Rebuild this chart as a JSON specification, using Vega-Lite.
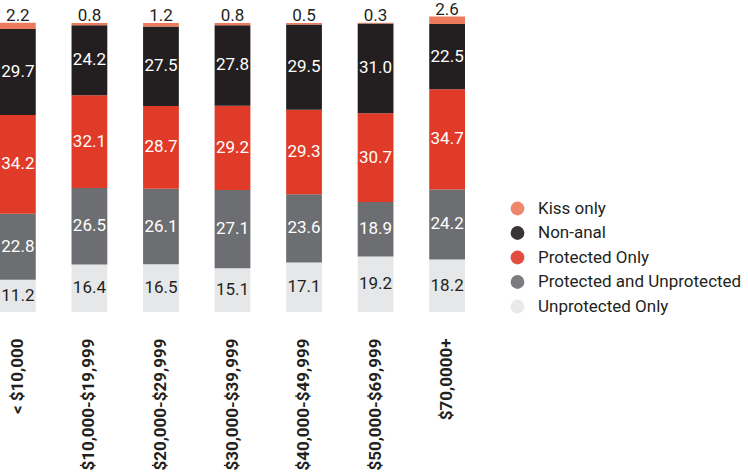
{
  "$schema": "https://vega.github.io/schema/vega-lite/v6.json",
  "width": 465,
  "height": 311,
  "padding": 0,
  "autosize": {"type": "pad"},
  "background": "white",
  "config": {"view": {"stroke": null}, "font": "Roboto"},
  "data": {"values": [
    {"inc": "< $10,000", "seg": "Unprotected Only", "rank": 1, "v": 11.2},
    {"inc": "< $10,000", "seg": "Protected and Unprotected", "rank": 2, "v": 22.8},
    {"inc": "< $10,000", "seg": "Protected Only", "rank": 3, "v": 34.2},
    {"inc": "< $10,000", "seg": "Non-anal", "rank": 4, "v": 29.7},
    {"inc": "< $10,000", "seg": "Kiss only", "rank": 5, "v": 2.2},
    {"inc": "$10,000-$19,999", "seg": "Unprotected Only", "rank": 1, "v": 16.4},
    {"inc": "$10,000-$19,999", "seg": "Protected and Unprotected", "rank": 2, "v": 26.5},
    {"inc": "$10,000-$19,999", "seg": "Protected Only", "rank": 3, "v": 32.1},
    {"inc": "$10,000-$19,999", "seg": "Non-anal", "rank": 4, "v": 24.2},
    {"inc": "$10,000-$19,999", "seg": "Kiss only", "rank": 5, "v": 0.8},
    {"inc": "$20,000-$29,999", "seg": "Unprotected Only", "rank": 1, "v": 16.5},
    {"inc": "$20,000-$29,999", "seg": "Protected and Unprotected", "rank": 2, "v": 26.1},
    {"inc": "$20,000-$29,999", "seg": "Protected Only", "rank": 3, "v": 28.7},
    {"inc": "$20,000-$29,999", "seg": "Non-anal", "rank": 4, "v": 27.5},
    {"inc": "$20,000-$29,999", "seg": "Kiss only", "rank": 5, "v": 1.2},
    {"inc": "$30,000-$39,999", "seg": "Unprotected Only", "rank": 1, "v": 15.1},
    {"inc": "$30,000-$39,999", "seg": "Protected and Unprotected", "rank": 2, "v": 27.1},
    {"inc": "$30,000-$39,999", "seg": "Protected Only", "rank": 3, "v": 29.2},
    {"inc": "$30,000-$39,999", "seg": "Non-anal", "rank": 4, "v": 27.8},
    {"inc": "$30,000-$39,999", "seg": "Kiss only", "rank": 5, "v": 0.8},
    {"inc": "$40,000-$49,999", "seg": "Unprotected Only", "rank": 1, "v": 17.1},
    {"inc": "$40,000-$49,999", "seg": "Protected and Unprotected", "rank": 2, "v": 23.6},
    {"inc": "$40,000-$49,999", "seg": "Protected Only", "rank": 3, "v": 29.3},
    {"inc": "$40,000-$49,999", "seg": "Non-anal", "rank": 4, "v": 29.5},
    {"inc": "$40,000-$49,999", "seg": "Kiss only", "rank": 5, "v": 0.5},
    {"inc": "$50,000-$69,999", "seg": "Unprotected Only", "rank": 1, "v": 19.2},
    {"inc": "$50,000-$69,999", "seg": "Protected and Unprotected", "rank": 2, "v": 18.9},
    {"inc": "$50,000-$69,999", "seg": "Protected Only", "rank": 3, "v": 30.7},
    {"inc": "$50,000-$69,999", "seg": "Non-anal", "rank": 4, "v": 31.0},
    {"inc": "$50,000-$69,999", "seg": "Kiss only", "rank": 5, "v": 0.3},
    {"inc": "$70,0000+", "seg": "Unprotected Only", "rank": 1, "v": 18.2},
    {"inc": "$70,0000+", "seg": "Protected and Unprotected", "rank": 2, "v": 24.2},
    {"inc": "$70,0000+", "seg": "Protected Only", "rank": 3, "v": 34.7},
    {"inc": "$70,0000+", "seg": "Non-anal", "rank": 4, "v": 22.5},
    {"inc": "$70,0000+", "seg": "Kiss only", "rank": 5, "v": 2.6}
  ]},
  "encoding": {
    "x": {
      "field": "inc", "type": "nominal", "sort": null,
      "scale": {"paddingInner": 0.5, "paddingOuter": 0},
      "axis": {"title": null, "ticks": false, "domain": false, "labelAngle": -90, "labelPadding": 26, "labelFontSize": 17, "labelFontWeight": "bold", "labelColor": "#231f20", "labelFont": "Roboto"}
    }
  },
  "layer": [
    {
      "mark": {"type": "bar"},
      "encoding": {
        "y": {"field": "v", "type": "quantitative", "stack": "zero", "scale": {"domain": [0, 107.6], "nice": false, "zero": true}, "axis": null},
        "order": {"field": "rank", "type": "quantitative"},
        "color": {
          "field": "seg", "type": "nominal",
          "scale": {
            "domain": ["Kiss only", "Non-anal", "Protected Only", "Protected and Unprotected", "Unprotected Only"],
            "range": ["#ec7a5c", "#231f20", "#e03a28", "#6d6e71", "#e6e7e8"]
          },
          "legend": {
            "title": null, "orient": "none", "legendX": 509, "legendY": 199,
            "symbolType": "circle", "symbolSize": 190, "symbolStrokeWidth": 0, "symbolOpacity": 0.9,
            "labelFontSize": 17, "labelColor": "#231f20", "labelFont": "Roboto", "labelFontWeight": "normal",
            "rowPadding": 6.5, "labelOffset": 12, "labelLimit": 300
          }
        }
      }
    },
    {
      "transform": [{"filter": "datum.seg !== 'Kiss only'"}],
      "mark": {"type": "text", "fontSize": 17, "font": "Roboto", "fontWeight": "normal"},
      "encoding": {
        "y": {"field": "v", "type": "quantitative", "stack": "zero", "bandPosition": 0.5},
        "order": {"field": "rank", "type": "quantitative"},
        "text": {"field": "v", "type": "quantitative", "format": ".1f"},
        "color": {"condition": {"test": "datum.seg === 'Unprotected Only'", "value": "#231f20"}, "value": "white"}
      }
    },
    {
      "mark": {"type": "text", "fontSize": 17, "font": "Roboto", "fontWeight": "normal", "baseline": "bottom", "dy": 2, "color": "#231f20"},
      "encoding": {
        "y": {"field": "v", "type": "quantitative", "stack": "zero", "bandPosition": 1},
        "order": {"field": "rank", "type": "quantitative"},
        "text": {"condition": {"test": "datum.seg === 'Kiss only'", "field": "v", "type": "quantitative", "format": ".1f"}, "value": ""}
      }
    }
  ]
}
